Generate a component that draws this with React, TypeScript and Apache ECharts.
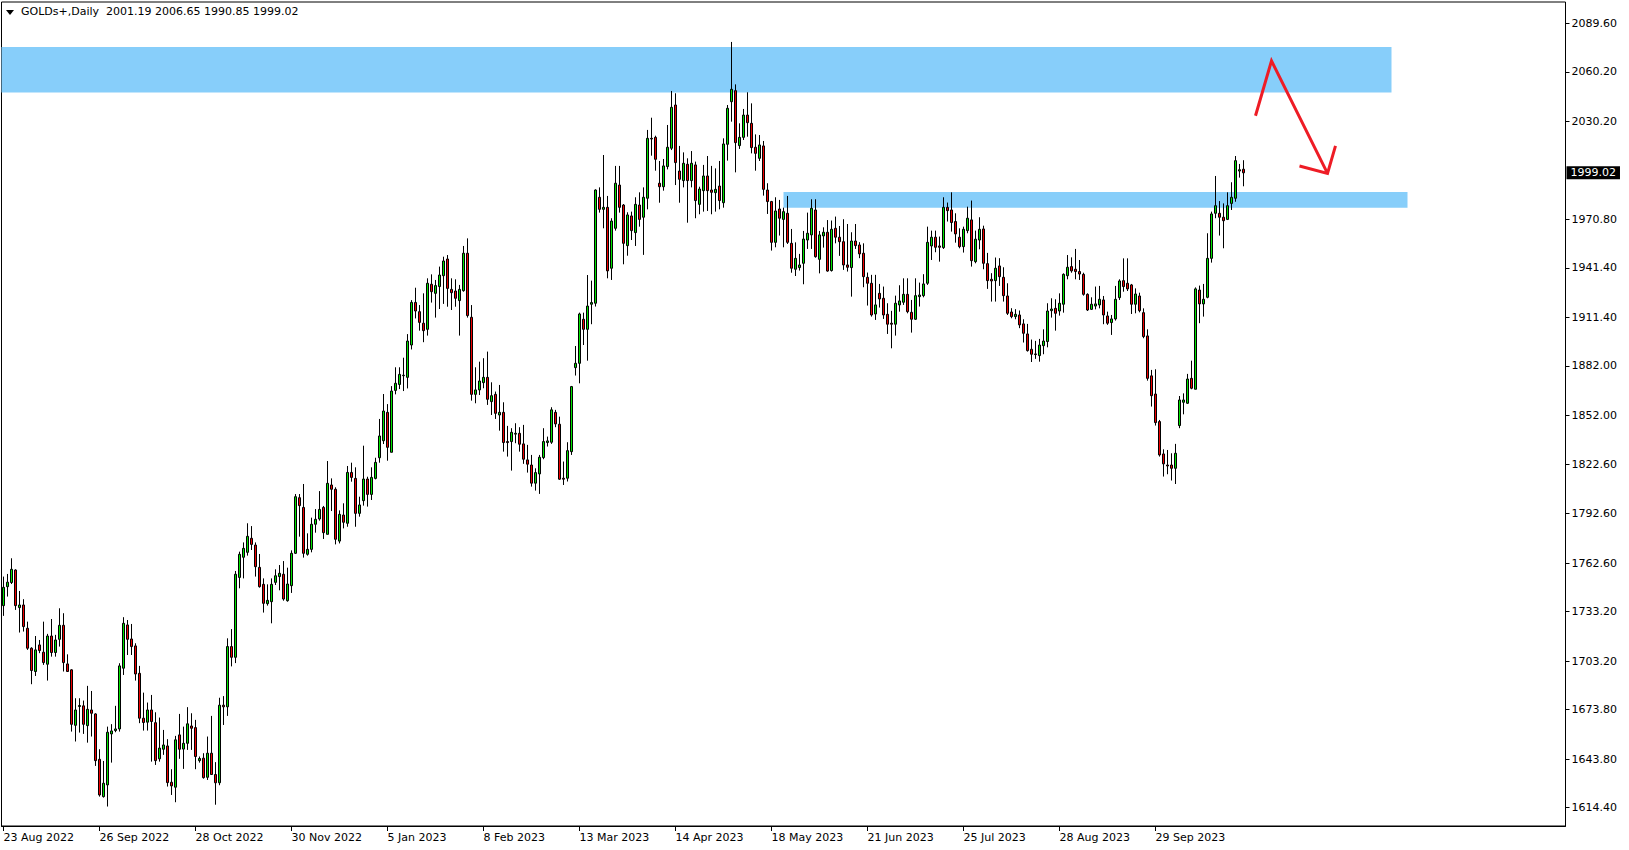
import React, { useEffect, useRef } from 'react';
import * as echarts from 'echarts';

// ---------- data ----------
const symbolTitle = 'GOLDs+,Daily  2001.19 2006.65 1990.85 1999.02';
const tickLabels = [
  '23 Aug 2022', '26 Sep 2022', '28 Oct 2022', '30 Nov 2022', '5 Jan 2023', '8 Feb 2023',
  '13 Mar 2023', '14 Apr 2023', '18 May 2023', '21 Jun 2023', '25 Jul 2023', '28 Aug 2023', '29 Sep 2023',
];
const barsPerLabel = 24;
const emptySlots = 80;
const priceTicks = [
  2089.6, 2060.2, 2030.2, 1970.8, 1941.4, 1911.4, 1882.0, 1852.0, 1822.6, 1792.6,
  1762.6, 1733.2, 1703.2, 1673.8, 1643.8, 1614.4,
];
const priceMin = 1603.3;
const priceMax = 2102.5;
const lastPrice = 1999.02;

// open, high, low, close
const bars: number[][] = [
  [1736.8, 1754.4, 1730.6, 1747.9], [1748.3, 1756.0, 1742.3, 1751.0], [1750.8, 1765.5, 1749.9, 1758.8],
  [1758.4, 1758.8, 1734.2, 1736.8], [1735.6, 1745.7, 1720.5, 1737.2], [1737.2, 1740.7, 1721.1, 1724.1],
  [1723.1, 1727.1, 1710.0, 1711.0], [1711.0, 1711.6, 1689.2, 1697.5], [1696.9, 1718.4, 1694.2, 1710.0],
  [1713.0, 1716.0, 1708.0, 1709.6], [1708.6, 1727.1, 1700.9, 1702.3], [1701.3, 1719.7, 1691.4, 1718.4],
  [1718.4, 1728.7, 1705.9, 1708.4], [1708.4, 1719.1, 1705.9, 1716.0], [1716.4, 1735.2, 1712.0, 1724.9],
  [1724.9, 1732.2, 1696.9, 1702.3], [1701.5, 1707.3, 1696.6, 1696.9], [1697.9, 1698.3, 1660.5, 1664.9],
  [1664.3, 1680.7, 1654.5, 1673.6], [1675.7, 1680.7, 1659.9, 1676.3], [1676.1, 1679.3, 1659.1, 1664.9],
  [1664.1, 1688.2, 1653.8, 1674.0], [1673.6, 1685.1, 1657.5, 1671.6], [1671.2, 1671.6, 1639.7, 1642.9],
  [1643.7, 1649.8, 1621.1, 1622.1], [1621.1, 1642.7, 1620.5, 1629.2], [1628.2, 1663.5, 1615.1, 1660.1],
  [1659.1, 1665.0, 1641.7, 1660.9], [1661.1, 1676.1, 1660.1, 1662.1], [1662.1, 1701.9, 1660.5, 1700.3],
  [1698.9, 1729.8, 1694.8, 1726.1], [1725.1, 1728.1, 1706.9, 1716.4], [1716.6, 1725.7, 1706.9, 1712.0],
  [1712.4, 1714.0, 1691.4, 1695.4], [1695.8, 1700.3, 1665.6, 1668.6], [1668.6, 1684.1, 1661.1, 1666.0],
  [1666.2, 1678.1, 1661.1, 1673.6], [1673.6, 1682.7, 1642.3, 1666.6], [1665.9, 1672.2, 1640.3, 1642.9],
  [1644.0, 1669.0, 1642.3, 1650.5], [1649.8, 1661.5, 1646.4, 1652.4], [1651.8, 1655.9, 1627.2, 1629.6],
  [1629.8, 1637.7, 1622.1, 1627.6], [1626.8, 1657.9, 1617.7, 1655.5], [1658.5, 1671.2, 1644.0, 1649.8],
  [1649.9, 1663.5, 1637.9, 1653.4], [1653.4, 1675.3, 1649.4, 1665.2], [1663.9, 1671.6, 1649.4, 1662.5],
  [1662.9, 1667.6, 1637.7, 1645.4], [1642.9, 1645.4, 1641.7, 1644.2], [1644.4, 1647.4, 1632.0, 1632.6],
  [1632.8, 1657.5, 1631.2, 1647.4], [1647.4, 1670.0, 1634.3, 1634.5], [1634.5, 1642.0, 1616.2, 1629.5],
  [1629.5, 1681.0, 1628.0, 1676.5], [1676.5, 1682.0, 1664.5, 1675.5], [1675.5, 1717.0, 1670.0, 1712.0],
  [1712.0, 1722.6, 1700.0, 1705.5], [1705.5, 1757.8, 1702.0, 1755.8], [1753.9, 1769.5, 1747.3, 1767.9],
  [1766.1, 1775.1, 1753.3, 1771.5], [1769.1, 1786.7, 1767.1, 1778.8], [1777.6, 1785.0, 1770.5, 1773.9],
  [1773.5, 1775.1, 1754.4, 1760.4], [1760.0, 1768.1, 1747.7, 1748.3], [1749.7, 1753.3, 1732.6, 1738.2],
  [1738.0, 1749.7, 1736.8, 1740.0], [1739.2, 1753.3, 1726.1, 1749.7], [1750.9, 1758.8, 1749.3, 1754.9],
  [1754.4, 1761.4, 1746.1, 1756.4], [1755.8, 1763.8, 1739.8, 1740.8], [1739.8, 1759.8, 1739.2, 1749.9],
  [1748.9, 1770.3, 1744.5, 1768.5], [1768.5, 1804.4, 1768.1, 1802.8], [1802.2, 1804.4, 1778.6, 1797.4],
  [1796.3, 1810.5, 1765.9, 1768.5], [1767.9, 1780.6, 1767.1, 1770.9], [1770.9, 1790.1, 1769.1, 1786.1],
  [1786.1, 1795.3, 1781.0, 1789.1], [1789.3, 1806.2, 1788.3, 1795.1], [1796.3, 1797.2, 1777.2, 1781.0],
  [1780.0, 1824.4, 1780.0, 1810.9], [1809.9, 1813.9, 1794.1, 1807.3], [1807.3, 1808.5, 1773.9, 1777.0],
  [1775.9, 1794.5, 1774.5, 1792.1], [1791.7, 1798.8, 1783.6, 1787.3], [1786.7, 1821.4, 1784.6, 1817.5],
  [1817.5, 1823.4, 1811.9, 1814.5], [1813.9, 1820.6, 1784.6, 1792.7], [1792.7, 1802.8, 1790.7, 1797.8],
  [1800.4, 1833.7, 1797.4, 1813.5], [1813.5, 1814.9, 1796.8, 1804.2], [1804.2, 1820.6, 1800.8, 1814.5],
  [1813.9, 1826.4, 1813.3, 1823.6], [1826.4, 1849.9, 1823.4, 1839.6], [1836.7, 1865.0, 1834.7, 1854.7],
  [1853.9, 1858.9, 1824.6, 1832.7], [1829.7, 1869.8, 1829.7, 1866.8], [1867.2, 1881.2, 1864.8, 1871.5],
  [1870.8, 1881.2, 1868.0, 1876.9], [1876.1, 1887.0, 1866.8, 1876.4], [1875.1, 1901.3, 1868.4, 1897.1],
  [1894.7, 1921.9, 1892.0, 1920.5], [1920.5, 1929.4, 1910.8, 1915.3], [1914.9, 1918.9, 1903.4, 1908.4],
  [1907.9, 1926.0, 1896.4, 1903.4], [1904.2, 1935.1, 1900.4, 1932.1], [1931.5, 1937.5, 1920.4, 1927.0],
  [1926.0, 1934.1, 1911.3, 1930.7], [1930.1, 1942.2, 1916.5, 1937.1], [1936.7, 1948.2, 1919.6, 1945.6],
  [1946.8, 1949.2, 1917.9, 1929.0], [1928.4, 1935.1, 1915.9, 1926.4], [1927.4, 1934.5, 1917.9, 1923.0],
  [1921.6, 1931.1, 1900.4, 1928.4], [1927.6, 1954.7, 1927.0, 1950.3], [1950.3, 1959.3, 1911.3, 1912.5],
  [1911.5, 1918.9, 1861.0, 1864.8], [1864.8, 1881.2, 1859.4, 1867.5], [1867.5, 1884.6, 1864.4, 1872.9],
  [1871.9, 1886.7, 1868.5, 1875.1], [1875.1, 1890.7, 1858.4, 1861.8], [1860.4, 1872.1, 1852.3, 1864.0],
  [1864.8, 1866.5, 1849.9, 1853.3], [1852.3, 1870.5, 1842.8, 1853.9], [1853.9, 1860.0, 1830.1, 1835.6],
  [1836.2, 1845.7, 1827.1, 1835.6], [1836.2, 1844.3, 1818.6, 1841.8], [1840.7, 1847.3, 1835.2, 1841.2],
  [1841.2, 1844.9, 1830.1, 1834.6], [1834.8, 1846.3, 1822.7, 1825.5], [1825.1, 1834.2, 1817.4, 1822.5],
  [1822.0, 1828.1, 1808.9, 1811.0], [1811.0, 1820.0, 1806.5, 1817.4], [1816.6, 1828.1, 1804.5, 1826.7],
  [1826.5, 1844.3, 1825.5, 1836.2], [1835.6, 1839.2, 1833.2, 1836.6], [1835.8, 1857.0, 1834.8, 1855.4],
  [1853.9, 1855.4, 1844.9, 1846.9], [1846.7, 1851.3, 1813.0, 1813.4], [1814.0, 1824.1, 1809.9, 1813.4],
  [1814.0, 1835.8, 1812.0, 1830.7], [1830.1, 1869.9, 1828.1, 1869.5], [1881.0, 1894.1, 1876.2, 1883.6],
  [1883.6, 1914.3, 1871.5, 1913.5], [1910.3, 1914.3, 1894.7, 1904.2], [1904.2, 1937.1, 1885.2, 1918.3],
  [1919.4, 1933.7, 1907.3, 1920.4], [1920.0, 1989.0, 1918.0, 1988.6], [1984.2, 1990.2, 1974.9, 1976.9],
  [1976.9, 2009.8, 1965.4, 1978.1], [1978.1, 1985.0, 1935.1, 1939.6], [1941.2, 1971.5, 1934.1, 1969.8],
  [1965.4, 2003.2, 1964.0, 1992.7], [1991.6, 2003.2, 1974.9, 1978.1], [1979.5, 1980.1, 1943.6, 1956.3],
  [1954.9, 1975.1, 1948.8, 1973.5], [1972.9, 1975.5, 1958.3, 1964.0], [1962.8, 1984.2, 1954.7, 1979.9],
  [1979.5, 1987.2, 1966.4, 1970.8], [1972.1, 1990.2, 1949.3, 1984.2], [1983.6, 2025.0, 1976.9, 2019.9],
  [2019.9, 2032.4, 2009.4, 2019.5], [2020.5, 2021.5, 2000.3, 2007.2], [1992.7, 2006.2, 1980.9, 1990.6],
  [1990.6, 2007.4, 1988.2, 2003.2], [2002.8, 2028.0, 2001.1, 2014.5], [2013.9, 2048.6, 2012.8, 2038.7],
  [2040.1, 2047.2, 1991.6, 2005.2], [2000.1, 2015.3, 1980.9, 1995.1], [1994.3, 2011.4, 1990.2, 2004.8],
  [2004.2, 2007.8, 1968.8, 1994.3], [1994.3, 2012.2, 1990.2, 2004.8], [2003.8, 2005.8, 1971.5, 1982.2],
  [1979.9, 1990.6, 1973.9, 1989.2], [1988.2, 2003.8, 1975.5, 1997.1], [1997.1, 2009.2, 1975.9, 1988.2],
  [1988.6, 2003.2, 1973.9, 1987.2], [1987.0, 2001.7, 1975.5, 1989.0], [1991.0, 2006.2, 1976.9, 1982.2],
  [1980.9, 2019.9, 1977.9, 2016.5], [2016.3, 2040.1, 2006.4, 2038.1], [2042.1, 2078.3, 2030.0, 2049.6],
  [2048.8, 2052.6, 1999.3, 2017.3], [2015.5, 2029.0, 2013.5, 2020.5], [2020.5, 2037.7, 2018.9, 2034.0],
  [2034.0, 2047.8, 2020.9, 2029.4], [2029.0, 2041.1, 2010.8, 2014.3], [2014.5, 2022.3, 2000.3, 2010.8],
  [2007.8, 2021.9, 2006.2, 2015.9], [2015.3, 2018.3, 1985.2, 1989.0], [1988.6, 1992.7, 1974.1, 1981.6],
  [1981.6, 1982.0, 1951.9, 1956.9], [1956.9, 1984.2, 1953.9, 1975.9], [1977.1, 1982.6, 1961.0, 1971.5],
  [1970.8, 1977.9, 1953.9, 1975.5], [1974.5, 1985.0, 1955.9, 1956.9], [1956.3, 1965.0, 1938.5, 1941.2],
  [1940.6, 1956.9, 1936.5, 1947.2], [1941.6, 1949.9, 1939.8, 1943.2], [1944.2, 1963.8, 1931.5, 1958.9],
  [1958.3, 1974.9, 1952.9, 1962.4], [1961.4, 1983.0, 1952.9, 1977.5], [1976.5, 1983.0, 1947.6, 1948.2],
  [1946.6, 1963.8, 1938.1, 1961.4], [1960.8, 1966.0, 1953.7, 1963.0], [1963.0, 1970.4, 1939.1, 1939.5],
  [1939.8, 1970.1, 1939.2, 1964.8], [1965.4, 1972.5, 1956.3, 1960.0], [1960.0, 1966.8, 1948.7, 1957.3],
  [1957.3, 1970.9, 1940.2, 1943.2], [1943.2, 1968.0, 1939.2, 1941.8], [1941.6, 1963.0, 1924.0, 1957.7],
  [1957.7, 1968.0, 1952.9, 1954.9], [1955.3, 1957.0, 1947.3, 1949.9], [1950.3, 1956.3, 1929.7, 1936.1],
  [1935.7, 1938.6, 1918.6, 1932.1], [1932.1, 1937.2, 1911.9, 1912.9], [1913.5, 1937.2, 1909.9, 1919.0],
  [1926.0, 1931.7, 1917.4, 1922.6], [1923.0, 1930.1, 1910.5, 1912.9], [1913.3, 1920.0, 1901.4, 1907.3],
  [1907.9, 1915.4, 1892.7, 1907.3], [1907.3, 1924.6, 1900.4, 1920.0], [1919.0, 1930.9, 1914.9, 1921.4],
  [1920.6, 1935.1, 1919.0, 1925.4], [1925.4, 1935.1, 1913.9, 1914.9], [1914.5, 1922.0, 1902.2, 1910.3],
  [1910.3, 1935.1, 1909.9, 1924.6], [1924.0, 1932.5, 1918.0, 1925.0], [1924.6, 1937.6, 1923.6, 1931.7],
  [1932.1, 1966.4, 1931.1, 1956.9], [1954.7, 1964.0, 1946.2, 1960.0], [1960.0, 1964.0, 1950.9, 1953.9],
  [1954.7, 1960.4, 1945.2, 1953.9], [1953.7, 1984.2, 1952.9, 1978.1], [1978.1, 1981.0, 1969.5, 1976.1],
  [1976.5, 1987.2, 1963.4, 1968.9], [1969.5, 1974.5, 1956.7, 1962.0], [1960.0, 1965.4, 1953.3, 1954.3],
  [1954.3, 1966.4, 1950.7, 1964.8], [1964.0, 1978.5, 1962.4, 1971.5], [1970.5, 1982.2, 1942.2, 1945.8],
  [1945.2, 1964.0, 1944.2, 1958.8], [1958.3, 1972.1, 1952.7, 1964.8], [1965.0, 1967.0, 1940.6, 1944.2],
  [1944.0, 1950.5, 1928.7, 1933.7], [1934.5, 1938.2, 1921.0, 1933.5], [1933.7, 1947.7, 1921.0, 1941.2],
  [1942.6, 1947.3, 1930.5, 1936.1], [1935.7, 1941.8, 1921.0, 1924.6], [1924.4, 1932.1, 1912.9, 1913.9],
  [1914.7, 1917.0, 1910.9, 1911.9], [1911.9, 1916.4, 1910.3, 1913.3], [1912.9, 1915.6, 1904.9, 1906.9],
  [1907.5, 1910.3, 1896.2, 1901.8], [1901.4, 1907.5, 1890.7, 1891.3], [1892.1, 1898.0, 1884.4, 1889.1],
  [1889.3, 1897.2, 1886.3, 1888.9], [1888.3, 1898.4, 1884.6, 1894.7], [1894.3, 1904.2, 1889.1, 1897.1],
  [1896.8, 1920.0, 1893.3, 1915.3], [1915.5, 1923.0, 1911.3, 1916.5], [1916.9, 1922.4, 1903.4, 1913.9],
  [1915.3, 1926.0, 1912.5, 1920.0], [1919.4, 1938.1, 1914.3, 1937.5], [1936.7, 1949.2, 1934.5, 1941.8],
  [1942.2, 1947.8, 1938.5, 1939.6], [1940.6, 1952.9, 1934.5, 1939.2], [1939.2, 1946.2, 1934.1, 1937.7],
  [1937.5, 1938.5, 1924.6, 1925.4], [1925.4, 1926.0, 1915.3, 1915.9], [1916.3, 1923.6, 1915.9, 1919.4],
  [1918.3, 1930.1, 1916.3, 1919.6], [1919.0, 1930.5, 1916.9, 1922.4], [1922.0, 1924.4, 1907.3, 1912.9],
  [1912.3, 1914.9, 1906.9, 1907.9], [1908.3, 1912.9, 1900.8, 1910.5], [1910.5, 1930.5, 1909.5, 1922.4],
  [1923.4, 1934.5, 1922.0, 1933.5], [1933.7, 1947.2, 1927.0, 1930.1], [1932.1, 1947.2, 1927.4, 1928.7],
  [1931.1, 1931.7, 1913.5, 1919.4], [1919.4, 1929.0, 1913.9, 1925.6], [1924.4, 1926.4, 1914.5, 1915.5],
  [1914.3, 1916.9, 1898.8, 1899.8], [1900.2, 1904.2, 1873.1, 1874.5], [1876.0, 1879.6, 1857.4, 1864.0],
  [1865.0, 1880.0, 1845.9, 1847.7], [1848.3, 1849.3, 1827.1, 1828.1], [1828.7, 1831.5, 1815.0, 1822.7],
  [1822.0, 1831.1, 1816.4, 1821.4], [1822.0, 1829.1, 1812.6, 1820.0], [1820.0, 1834.8, 1810.5, 1829.1],
  [1845.9, 1863.8, 1844.3, 1861.4], [1860.0, 1865.4, 1852.7, 1861.4], [1859.4, 1877.2, 1859.0, 1874.1],
  [1874.5, 1885.2, 1867.9, 1868.5], [1867.9, 1929.6, 1867.9, 1928.7], [1928.0, 1930.7, 1907.9, 1919.6],
  [1919.6, 1931.7, 1911.9, 1922.4], [1923.6, 1962.4, 1923.0, 1947.2], [1947.2, 1975.5, 1944.6, 1974.1],
  [1974.5, 1997.1, 1971.5, 1979.1], [1974.5, 1981.9, 1961.0, 1972.1], [1972.1, 1980.5, 1953.3, 1970.0],
  [1970.8, 1987.2, 1970.4, 1979.1], [1980.5, 1993.3, 1976.5, 1984.2], [1983.6, 2009.2, 1981.5, 2006.4],
  [2000.1, 2004.4, 1996.1, 2000.9], [2001.19, 2006.65, 1990.85, 1999.02],
];

// zones: [fromBar, toBar, topPrice, bottomPrice]
const zones: number[][] = [
  [-1.5, 346.8, 2075.2, 2047.6],
  [194.9, 350.8, 1987.4, 1977.9],
];
// red arrow: [bar, price]
const arrowShaft: number[][] = [[313.45, 2033.6], [317.3, 2066.9], [331.05, 1998.7]];
const arrowHead: number[][] = [[323.9, 2003.1], [331.05, 1998.7], [333.3, 2015.3]];

const FONT = '"DejaVu Sans", Verdana, sans-serif';

export default function App() {
  const ref = useRef<HTMLDivElement>(null);
  useEffect(() => {
    if (!ref.current) return;
    const chart = echarts.init(ref.current, undefined, { renderer: 'svg' });
    const total = bars.length + emptySlots;
    const categories = Array.from({ length: total }, (_, i) => String(i));
    const isLabel = (i: number) => i % barsPerLabel === 0 && i / barsPerLabel < tickLabels.length;
    chart.setOption({
      animation: false,
      backgroundColor: '#ffffff',
      textStyle: { fontFamily: FONT },
      title: {
        text: symbolTitle,
        left: 21,
        top: 6,
        padding: 0,
        textStyle: { fontFamily: FONT, fontSize: 11, fontWeight: 'normal', color: '#000' },
      },
      grid: {
        left: 1.5,
        top: 2,
        width: 4 * total,
        height: 824,
        show: true,
        borderColor: '#000',
        borderWidth: 1,
        backgroundColor: '#fff',
      },
      xAxis: {
        type: 'category',
        data: categories,
        boundaryGap: true,
        axisLine: { show: true, lineStyle: { color: '#000', width: 1 } },
        axisTick: {
          show: true,
          alignWithLabel: true,
          interval: (i: number) => isLabel(i),
          length: 5,
          lineStyle: { color: '#000' },
        },
        axisLabel: {
          interval: (i: number) => isLabel(i),
          formatter: (v: string) => tickLabels[Number(v) / barsPerLabel] ?? '',
          align: 'left',
          margin: 6,
          color: '#000',
          fontFamily: FONT,
          fontSize: 11,
        },
        splitLine: { show: false },
      },
      yAxis: [
        {
          type: 'value',
          position: 'right',
          min: priceMin,
          max: priceMax,
          axisLine: { show: false },
          axisTick: { show: true, length: 4, customValues: priceTicks, lineStyle: { color: '#000' } },
          axisLabel: {
            customValues: priceTicks,
            formatter: (v: number) => v.toFixed(2),
            margin: 6,
            color: '#000',
            fontFamily: FONT,
            fontSize: 11,
          },
          splitLine: { show: false },
        },
        {
          type: 'value',
          position: 'right',
          min: priceMin,
          max: priceMax,
          axisLine: { show: false },
          axisTick: { show: false },
          axisLabel: {
            customValues: [lastPrice],
            formatter: (v: number) => v.toFixed(2),
            margin: 1,
            color: '#fff',
            backgroundColor: '#000',
            padding: [1, 4, 1, 4],
            fontFamily: FONT,
            fontSize: 11,
          },
          splitLine: { show: false },
        },
      ],
      series: [
        {
          type: 'custom',
          name: 'zones',
          z: 1,
          clip: true,
          silent: true,
          data: zones,
          renderItem: (params: any, api: any) => {
            const p0 = api.coord([api.value(0), api.value(2)]);
            const p1 = api.coord([api.value(1), api.value(3)]);
            const left = Math.max(p0[0], params.coordSys.x);
            return {
              type: 'rect',
              shape: { x: left, y: p0[1], width: p1[0] - left, height: p1[1] - p0[1] },
              style: { fill: '#87CEFA' },
            };
          },
        },
        {
          type: 'candlestick',
          name: 'GOLDs+',
          z: 3,
          barWidth: 2,
          data: bars.map(([o, h, l, c]) => [o, c, l, h]),
          itemStyle: {
            color: '#00E400',
            color0: '#EE0000',
            borderColor: '#000',
            borderColor0: '#000',
            borderWidth: 1,
          },
        },
        {
          type: 'custom',
          name: 'arrow',
          z: 4,
          silent: true,
          data: [[0, 0]],
          renderItem: (params: any, api: any) => ({
            type: 'group',
            children: [arrowShaft, arrowHead].map((pts) => ({
              type: 'polyline',
              shape: { points: pts.map((p) => api.coord(p)) },
              style: { stroke: '#EE1C25', lineWidth: 3, fill: null, lineJoin: 'miter' },
            })),
          }),
        },
      ],
      graphic: [
        {
          type: 'polygon',
          shape: { points: [[6, 10], [14, 10], [10, 15]] },
          style: { fill: '#000' },
        },
      ],
    });
    return () => chart.dispose();
  }, []);
  return (
    <div
      ref={ref}
      style={{ position: 'fixed', left: 0, top: 0, width: 1629, height: 850, background: '#fff' }}
    />
  );
}
